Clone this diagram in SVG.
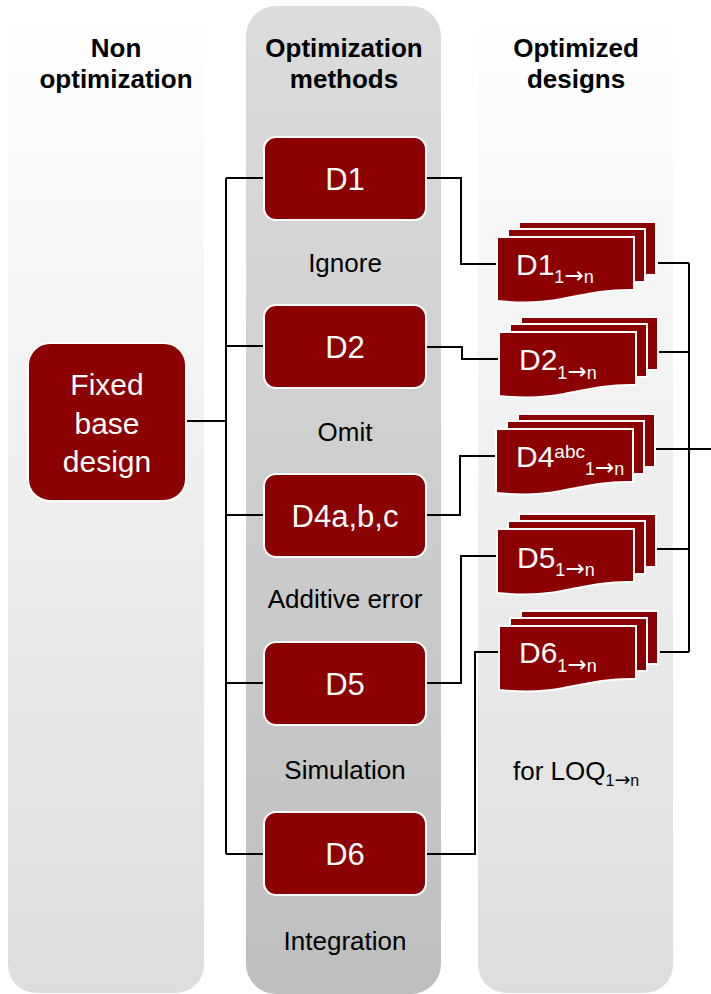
<svg xmlns="http://www.w3.org/2000/svg" xmlns:xlink="http://www.w3.org/1999/xlink" width="711" height="994" viewBox="0 0 711 994">
  <style>
    .hdr { font-family: "Liberation Sans", Arial, sans-serif; font-weight: bold; font-size: 26px; fill: #000; text-anchor: middle; }
    .lbl { font-family: "Liberation Sans", Arial, sans-serif; font-size: 26px; fill: #000; text-anchor: middle; }
    .box { fill: #8B0000; stroke: #ffffff; stroke-width: 2; }
    .page { fill: #8B0000; stroke: #ffffff; stroke-width: 2; }
    .btxt { font-family: "Liberation Sans", Arial, sans-serif; font-size: 31px; fill: #ffffff; text-anchor: middle; }
    .dtxt { font-family: "Liberation Sans", Arial, sans-serif; font-size: 30px; fill: #ffffff; }
    .sub { font-size: 18px; }
    .arr { font-family: "DejaVu Sans", sans-serif; font-size: 23px; }
    .conn { fill: none; stroke: #000; stroke-width: 2; }
  </style>
  <defs>
    <linearGradient id="gSide" x1="0" y1="0" x2="0" y2="1">
      <stop offset="0" stop-color="#ffffff"/>
      <stop offset="1" stop-color="#dddddd"/>
    </linearGradient>
    <linearGradient id="gMid" x1="0" y1="0" x2="0" y2="1">
      <stop offset="0" stop-color="#dcdcdc"/>
      <stop offset="1" stop-color="#bebebe"/>
    </linearGradient>
    <path id="page" d="M0,0 H137 V53 C110,52 85,58 65,62 C45,66 20,66 0,64 Z"/>
    <g id="stack">
      <use xlink:href="#page" href="#page" class="page" x="22" y="-15"/>
      <use xlink:href="#page" href="#page" class="page" x="11" y="-8"/>
      <use xlink:href="#page" href="#page" class="page" x="0" y="0"/>
    </g>
  </defs>

  <!-- columns -->
  <g id="columns">
    <rect x="8" y="6" width="196" height="987" rx="28" fill="url(#gSide)"/>
    <rect x="246" y="6" width="195" height="988" rx="30" fill="url(#gMid)"/>
    <rect x="478" y="6" width="195" height="987" rx="28" fill="url(#gSide)"/>
  </g>

  <!-- headers -->
  <g id="headers">
    <text class="hdr" x="116" y="57">Non</text>
    <text class="hdr" x="116" y="88">optimization</text>
    <text class="hdr" x="344" y="57">Optimization</text>
    <text class="hdr" x="344" y="88">methods</text>
    <text class="hdr" x="576" y="57">Optimized</text>
    <text class="hdr" x="576" y="88">designs</text>
  </g>

  <!-- connectors -->
  <g id="connectors">
    <path class="conn" d="M186,421 H226"/>
    <path class="conn" d="M226,178 V854"/>
    <path class="conn" d="M226,178 H264 M226,346 H264 M226,515 H264 M226,683 H264 M226,854 H264"/>
    <path class="conn" d="M426,178 H461 V264 H497"/>
    <path class="conn" d="M426,347 H462 V359 H499"/>
    <path class="conn" d="M426,515 H460 V456 H496"/>
    <path class="conn" d="M426,683 H461 V556 H497"/>
    <path class="conn" d="M426,854 H475 V652 H499"/>
    <path class="conn" d="M689,263 V652"/>
    <path class="conn" d="M658,263 H689 M659,352 H689 M650,449 H711 M647,549 H689 M660,652 H689"/>
  </g>

  <!-- non optimization -->
  <g id="fixed">
    <rect class="box" x="28" y="343" width="158" height="158" rx="22"/>
    <text class="btxt" x="107" y="395" style="font-size:30px">Fixed</text>
    <text class="btxt" x="107" y="434" style="font-size:30px">base</text>
    <text class="btxt" x="107" y="472" style="font-size:30px">design</text>
  </g>

  <!-- methods -->
  <g id="D1">
    <rect class="box" x="264" y="137" width="162" height="83" rx="12"/>
    <text class="btxt" x="345" y="190">D1</text>
  </g>
  <g id="D2">
    <rect class="box" x="264" y="305" width="162" height="83" rx="12"/>
    <text class="btxt" x="345" y="358">D2</text>
  </g>
  <g id="D4">
    <rect class="box" x="264" y="474" width="162" height="83" rx="12"/>
    <text class="btxt" x="345" y="527">D4a,b,c</text>
  </g>
  <g id="D5">
    <rect class="box" x="264" y="642" width="162" height="83" rx="12"/>
    <text class="btxt" x="345" y="695">D5</text>
  </g>
  <g id="D6">
    <rect class="box" x="264" y="812" width="162" height="83" rx="12"/>
    <text class="btxt" x="345" y="865">D6</text>
  </g>

  <g id="method-labels">
    <text class="lbl" x="345" y="272">Ignore</text>
    <text class="lbl" x="345" y="441">Omit</text>
    <text class="lbl" x="345" y="608">Additive error</text>
    <text class="lbl" x="345" y="779">Simulation</text>
    <text class="lbl" x="345" y="950">Integration</text>
  </g>

  <!-- optimized designs -->
  <g id="S1">
    <use xlink:href="#stack" href="#stack" transform="translate(497,237)"/>
    <text class="dtxt" x="516" y="275">D1<tspan class="sub" dy="8">1<tspan class="arr">→</tspan>n</tspan></text>
  </g>
  <g id="S2">
    <use xlink:href="#stack" href="#stack" transform="translate(499,332)"/>
    <text class="dtxt" x="519" y="370">D2<tspan class="sub" dy="9">1<tspan class="arr">→</tspan>n</tspan></text>
  </g>
  <g id="S4">
    <use xlink:href="#stack" href="#stack" transform="translate(496,429)"/>
    <text class="dtxt" x="516" y="467">D4<tspan style="font-size:19px" dy="-9">abc</tspan><tspan class="sub" dy="17">1<tspan class="arr">→</tspan>n</tspan></text>
  </g>
  <g id="S5">
    <use xlink:href="#stack" href="#stack" transform="translate(497,529)"/>
    <text class="dtxt" x="517" y="568">D5<tspan class="sub" dy="8">1<tspan class="arr">→</tspan>n</tspan></text>
  </g>
  <g id="S6">
    <use xlink:href="#stack" href="#stack" transform="translate(499,626)"/>
    <text class="dtxt" x="519" y="663">D6<tspan class="sub" dy="9">1<tspan class="arr">→</tspan>n</tspan></text>
  </g>

  <g id="loq">
    <text class="lbl" x="513" y="780" style="text-anchor:start">for LOQ<tspan style="font-size:16px" dy="6">1<tspan class="arr" style="font-size:19px">→</tspan>n</tspan></text>
  </g>
</svg>
